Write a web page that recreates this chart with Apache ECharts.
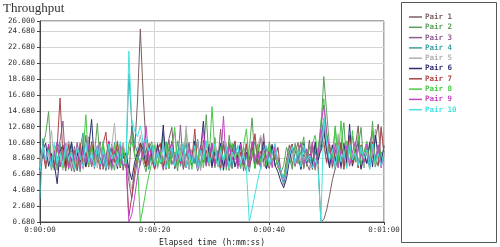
<!DOCTYPE html>
<html>
<head>
<meta charset="utf-8">
<script src="https://cdn.jsdelivr.net/npm/echarts@6/dist/echarts.min.js"></script>
<style>html,body{margin:0;padding:0;background:#fff}#c{width:500px;height:247px}</style>
</head>
<body>
<div id="c"></div>
<script>
// Sample times in seconds (0 .. 60, every 0.5 s)
const sampleStep = 0.5;

const seriesNames = ['Pair 1','Pair 2','Pair 3','Pair 4','Pair 5','Pair 6','Pair 7','Pair 8','Pair 9','Pair 10'];
const seriesColors = ['#7b5e5e','#58a058','#8e5c8e','#3e9e9e','#b0b0b0','#2c2c6e','#aa4444','#44cc44','#c444c4','#44e2e2'];

// Tick labels
const yTickLabels = ['0.680','2.680','4.680','6.680','8.680','10.680','12.680','14.680','16.680','18.680','20.680','22.680','24.680','26.000'];
const xTickLabels = ['0:00:00','0:00:20','0:00:40','0:01:00'];

const pair1 = [7.2,9.4,8.0,10.2,7.4,9.1,10.6,7.6,8.9,7.1,
 10.8,8.2,7.0,9.6,10.1,7.5,8.8,11.4,7.8,9.5,
 8.1,10.3,7.3,9.0,10.7,7.7,9.3,8.0,10.4,7.2,
 9.2,6.2,12.8,9.6,15.8,25.0,16.7,10.2,8.0,10.3,
 7.4,9.8,10.6,7.6,8.9,11.2,12.6,7.9,9.4,10.1,
 7.3,9.0,10.5,7.8,8.6,10.9,7.2,11.0,8.4,9.7,
 7.5,10.2,8.1,12.4,7.7,9.3,10.6,7.4,9.8,8.2,
 10.4,7.1,9.5,8.6,10.8,7.6,9.0,11.3,8.0,7.4,
 9.9,10.5,7.7,8.8,6.8,6.2,8.6,10.4,7.8,9.3,
 10.7,7.5,9.2,8.4,11.0,7.3,9.6,8.0,0.68,1.0,
 2.2,4.0,6.0,7.4,8.9,10.6,7.8,9.7,11.6,8.1,
 10.2,12.8,7.6,9.4,10.8,7.9,9.0,11.2,13.0,8.3,
 9.6];
const pair2 = [8.6,10.2,11.8,14.6,8.0,9.7,7.2,10.3,8.4,9.9,
 7.3,10.6,8.1,9.4,7.0,11.2,8.5,10.1,7.6,9.2,
 13.1,7.9,9.8,7.4,10.5,8.8,7.2,10.9,8.3,9.6,
 7.5,10.5,11.8,9.0,7.8,10.6,8.2,7.0,9.9,10.8,
 7.6,9.1,8.0,11.9,7.3,10.2,8.7,9.5,7.1,10.4,
 8.2,12.3,7.7,9.6,8.0,10.8,7.4,9.3,14.2,8.1,
 10.0,7.5,9.7,8.3,10.9,7.2,11.6,8.6,9.1,7.8,
 10.3,8.4,7.0,9.9,13.8,7.9,10.2,8.1,9.6,7.4,
 10.8,8.3,9.2,7.6,6.9,7.8,10.1,8.9,7.3,10.6,
 8.0,9.5,11.4,7.7,10.2,8.5,7.2,9.8,12.4,19.0,
 14.5,10.2,8.8,12.6,7.6,10.4,13.2,7.9,9.8,11.5,
 8.2,10.1,12.6,7.5,9.9,8.4,13.4,7.8,10.3,8.6,
 9.2];
const pair3 = [6.8,9.5,7.9,10.4,8.6,7.2,9.8,10.9,13.4,7.6,
 9.3,7.1,10.2,8.4,9.7,7.5,11.6,8.3,10.0,7.4,
 9.6,10.8,7.7,8.9,7.3,10.5,8.2,9.9,7.5,10.6,
 8.0,5.8,3.6,6.2,8.4,9.6,10.8,9.2,7.8,10.1,
 7.4,10.6,8.7,7.2,9.8,11.0,7.9,9.1,8.3,12.9,
 7.5,9.4,10.7,7.8,8.8,7.1,10.3,9.0,7.7,10.5,
 8.2,11.3,7.6,9.7,8.4,10.1,7.3,9.2,10.9,7.8,
 9.5,8.0,10.6,7.2,9.8,8.5,10.2,7.6,11.8,8.3,
 7.4,10.4,9.1,7.7,6.8,6.0,7.6,9.9,10.5,7.9,
 9.3,7.5,10.6,8.1,7.2,9.7,10.4,8.0,11.6,13.4,
 9.6,7.8,10.3,8.5,11.2,7.4,9.9,8.2,10.6,7.7,
 9.4,10.8,7.3,9.1,8.0,10.5,12.2,7.6,9.8,8.4,
 10.1];
const pair4 = [3.6,11.2,8.0,10.1,7.3,9.5,7.8,10.6,8.4,9.2,
 7.5,10.8,8.2,7.1,9.9,11.9,7.7,9.0,10.4,7.9,
 9.6,7.4,10.2,8.6,9.8,7.2,10.7,8.1,9.3,7.6,
 8.4,19.4,13.2,10.6,9.4,7.8,10.5,8.6,7.3,9.7,
 10.5,7.6,9.2,8.0,10.8,7.4,9.5,8.3,10.9,7.7,
 9.1,10.6,7.3,9.8,8.2,11.1,7.6,9.4,8.0,10.3,
 7.8,9.9,8.5,7.2,10.6,8.1,9.3,7.5,10.4,8.8,
 7.4,10.1,9.0,7.0,9.7,10.8,8.3,7.6,9.5,10.2,
 7.7,9.2,10.4,8.1,6.6,5.4,7.0,9.1,10.3,7.8,
 9.6,7.4,10.7,8.2,9.0,7.5,10.3,8.4,10.6,13.8,
 10.4,8.0,9.7,7.3,10.2,8.6,9.4,7.6,10.9,8.2,
 9.8,7.5,10.3,8.7,9.2,7.4,10.6,8.9,7.7,9.5,
 8.8];
const pair5 = [8.4,10.3,7.5,9.1,12.2,7.9,10.5,8.6,7.2,9.8,
 10.9,7.6,9.4,8.1,10.6,7.3,9.0,11.3,8.2,9.7,
 7.5,10.4,8.8,7.1,9.6,10.2,13.1,7.8,9.3,10.6,
 8.0,6.4,4.8,7.2,9.8,11.6,9.2,7.7,10.3,8.5,
 10.7,7.4,9.5,8.2,10.1,7.6,9.9,12.0,7.8,10.4,
 8.3,12.8,7.5,9.6,8.7,10.9,7.3,9.4,10.5,7.7,
 9.2,10.8,7.6,9.0,8.1,10.6,7.4,9.7,8.5,10.3,
 7.8,9.1,10.7,7.3,9.5,8.2,10.4,11.6,7.7,9.0,
 10.2,8.1,9.6,7.5,6.9,6.4,7.5,10.0,9.2,7.6,
 9.9,10.5,7.8,9.3,8.4,10.8,7.5,9.1,11.4,10.2,
 8.0,10.6,7.4,9.2,11.8,7.7,10.3,8.6,9.5,7.9,
 10.5,8.3,9.7,7.5,10.9,8.1,9.4,12.4,7.8,12.7,
 9.0];
const pair6 = [7.2,9.8,10.6,7.7,9.3,8.0,5.5,9.6,10.4,7.8,
 9.1,10.7,7.5,9.4,8.2,10.3,7.6,9.9,13.6,7.9,
 10.2,8.4,9.6,7.3,10.8,8.1,9.5,7.4,10.5,8.7,
 9.4,7.4,6.0,8.2,9.4,10.6,9.8,7.7,10.3,8.9,
 7.5,10.4,8.6,12.9,7.8,9.2,10.7,7.4,9.6,8.3,
 10.5,7.6,9.3,8.0,10.9,7.3,9.7,13.4,8.1,10.2,
 7.7,9.5,8.4,10.6,7.2,9.8,8.3,10.4,7.6,9.1,
 10.7,7.9,9.4,8.2,10.1,7.5,9.6,8.7,10.8,7.4,
 9.2,10.3,7.8,7.0,5.8,5.0,6.2,8.4,10.2,7.9,
 9.6,7.3,10.5,8.1,9.2,7.6,10.8,8.5,9.8,12.2,
 9.6,7.5,10.4,8.3,9.9,7.7,10.6,8.2,13.0,7.8,
 9.5,10.9,7.4,9.3,8.1,10.7,7.6,11.6,9.0,7.9,
 10.3];
const pair7 = [8.0,9.6,7.4,10.3,8.5,7.7,10.2,16.3,9.0,7.5,
 10.4,8.3,9.7,7.2,10.6,8.0,9.4,7.6,10.8,8.4,
 9.2,7.3,10.5,12.0,7.8,9.9,8.2,10.7,7.5,9.4,
 8.3,1.4,3.8,7.2,9.0,10.4,8.8,7.6,10.6,8.4,
 7.3,9.8,10.5,7.7,9.1,8.3,10.9,7.5,9.6,8.0,
 10.3,7.6,9.2,8.6,12.4,7.4,10.1,8.2,9.7,7.8,
 10.6,8.1,9.3,7.5,10.4,8.7,7.2,9.9,10.8,7.7,
 9.4,8.2,10.5,7.6,9.0,11.8,7.9,9.6,8.3,10.2,
 7.5,9.8,8.6,10.1,7.0,6.2,7.6,9.4,10.5,7.8,
 9.1,10.6,7.4,9.5,8.1,10.3,7.7,9.2,9.6,10.8,
 8.2,10.5,7.6,9.8,8.4,10.7,7.3,9.5,11.4,8.0,
 9.7,7.5,10.4,8.3,9.9,7.6,10.8,8.5,7.8,12.6,
 9.3];
const pair8 = [7.6,10.1,8.3,9.8,7.2,10.5,8.7,9.4,7.5,10.2,
 8.0,9.7,7.4,10.6,8.5,9.2,14.2,7.8,10.3,8.1,
 9.9,7.5,10.8,8.4,9.1,7.3,10.4,8.9,7.7,10.0,
 8.2,9.6,10.8,9.4,8.2,0.68,2.6,4.8,6.6,8.2,
 10.3,7.6,9.5,8.1,10.7,7.4,9.9,12.6,7.8,9.2,
 10.5,8.0,9.4,7.3,10.2,8.6,9.8,7.5,10.9,8.3,
 15.2,9.6,7.7,10.1,8.4,9.3,7.2,10.6,8.8,9.5,
 7.6,10.3,12.4,8.0,9.7,7.4,10.5,8.2,9.9,7.8,
 10.4,8.5,9.1,7.6,6.8,6.4,7.7,9.6,10.2,7.9,
 9.3,10.8,7.5,9.7,8.2,10.5,11.6,9.2,13.4,16.2,
 11.5,9.4,8.6,12.8,8.3,13.4,8.8,10.9,7.8,12.2,
 8.4,11.6,7.9,9.5,10.7,8.1,12.3,7.6,10.4,9.2,
 8.3];
const pair9 = [7.4,9.9,8.2,10.5,7.6,9.3,10.8,7.9,9.0,10.6,
 7.5,9.6,8.4,10.7,7.3,9.8,8.1,10.4,7.7,9.2,
 10.3,7.6,9.5,8.2,10.9,7.4,9.7,8.5,10.1,7.8,
 8.1,0.68,1.6,3.8,6.4,8.2,9.4,12.8,8.6,10.1,
 7.6,9.8,8.3,10.5,7.4,9.2,10.7,7.8,9.5,8.1,
 10.4,7.5,9.9,8.6,10.2,7.3,9.6,12.3,7.9,9.0,
 10.6,7.7,9.4,8.2,14.0,7.6,10.3,8.5,9.7,7.4,
 10.5,8.0,9.2,7.7,10.8,8.4,9.5,7.3,10.1,8.8,
 9.6,7.5,10.4,8.0,7.0,5.8,6.9,9.3,10.2,7.8,
 9.4,10.6,7.6,9.9,8.3,10.7,7.5,9.2,12.6,15.4,
 12.0,9.8,8.1,10.6,7.5,9.7,8.4,10.3,7.7,9.5,
 10.8,7.9,9.3,8.2,10.5,7.6,9.8,8.7,10.4,7.5,
 9.1];
const pair10 = [7.0,10.2,8.4,9.7,7.5,10.6,8.1,9.3,7.8,10.4,
 8.6,9.5,7.3,10.1,8.9,7.7,10.7,8.2,9.4,7.6,
 10.3,8.0,9.8,7.4,10.5,8.6,9.2,7.7,10.8,8.3,
 8.0,22.2,13.6,12.2,11.4,12.8,10.6,11.2,9.6,10.4,
 7.8,9.6,8.2,10.7,7.5,9.3,10.2,7.7,9.9,8.4,
 10.6,7.6,9.4,8.1,10.3,7.3,9.7,8.5,10.8,7.9,
 9.2,10.5,7.6,9.8,8.3,10.1,7.4,9.5,8.7,10.4,
 8.0,9.3,7.4,0.68,2.4,4.2,6.0,7.6,9.6,10.3,
 7.7,9.4,10.6,8.1,7.2,6.0,7.1,9.0,10.2,8.0,
 9.7,7.6,10.4,8.3,9.1,7.5,8.8,7.2,0.68,13.8,
 10.6,8.4,9.9,7.6,10.3,8.2,9.6,7.4,10.7,8.5,
 9.4,7.8,10.2,8.6,9.8,7.3,10.5,8.0,9.3,7.7,
 9.5];

const allPairs = [pair1,pair2,pair3,pair4,pair5,pair6,pair7,pair8,pair9,pair10];

// The value axis starts at 0.680 Mbps; values are plotted relative to that floor
const yFloor = 0.68;
const yTop = 26.0;

const chart = echarts.init(document.getElementById('c'), null, {renderer:'canvas'});
const mono = '"DejaVu Sans Mono", monospace';

const series = allPairs.map((vals, k) => ({
  name: seriesNames[k],
  type: 'line',
  showSymbol: false,
  symbol: 'none',
  animation: false,
  lineStyle: {width: 1, color: seriesColors[k]},
  itemStyle: {color: seriesColors[k]},
  data: vals.map((v, i) => [i * sampleStep, v - yFloor])
}));

chart.setOption({
  backgroundColor: '#fff',
  animation: false,
  grid: {left: 40, right: 116, top: 21, bottom: 25, show: true, borderColor: '#555', borderWidth: 1,
         containLabel: false, outerBoundsMode: 'none'},
  graphic: [
    {type: 'text', left: 3, top: 2, style: {text: 'Throughput', font: '13px "Liberation Serif", serif', fill: '#333'}},
    {type: 'rect', shape: {x: 401.5, y: 2.5, width: 95, height: 240}, style: {fill: 'none', stroke: '#555', lineWidth: 1}}
  ],
  legend: {
    orient: 'vertical', left: 404, top: 7,
    icon: 'rect', itemWidth: 13, itemHeight: 1.5, itemGap: 0.3,
    textStyle: {fontFamily: mono, fontSize: 7.5, fontWeight: 'bold', lineHeight: 10, padding: [0,0,0,-2]},
    data: seriesNames.map((n, k) => ({name: n, textStyle: {color: seriesColors[k]}})),
    selectedMode: false
  },
  xAxis: {
    type: 'value', min: 0, max: 60, interval: 20,
    name: 'Elapsed time (h:mm:ss)', nameLocation: 'middle', nameGap: 15,
    nameTextStyle: {fontFamily: mono, fontSize: 8, color: '#222'},
    axisLine: {lineStyle: {color: '#444'}},
    axisTick: {show: true, length: 3, lineStyle: {color: '#444'}},
    axisLabel: {fontFamily: mono, fontSize: 7.5, color: '#333', margin: 4,
      formatter: v => xTickLabels[Math.round(v / 20)]},
    splitLine: {show: true, lineStyle: {color: '#d4d4d4', width: 1}}
  },
  yAxis: {
    type: 'value', min: 0, max: yTop - yFloor, interval: 2,
    name: 'Mbps', nameLocation: 'middle', nameGap: 31, nameRotate: 90,
    nameTextStyle: {fontFamily: '"DejaVu Serif", serif', fontSize: 8, fontWeight: 'bold', color: '#222'},
    axisLine: {show: true, lineStyle: {color: '#444'}},
    axisTick: {show: true, length: 3, lineStyle: {color: '#444'}},
    axisLabel: {fontFamily: mono, fontSize: 7.5, color: '#333', margin: 5,
      formatter: (v) => { const idx = Math.round(v / 2); return (Math.abs(v - (yTop - yFloor)) < 1e-6) ? yTickLabels[yTickLabels.length - 1] : yTickLabels[idx]; }},
    splitLine: {show: true, lineStyle: {color: '#d4d4d4', width: 1}}
  },
  series: series
});
</script>
</body>
</html>
